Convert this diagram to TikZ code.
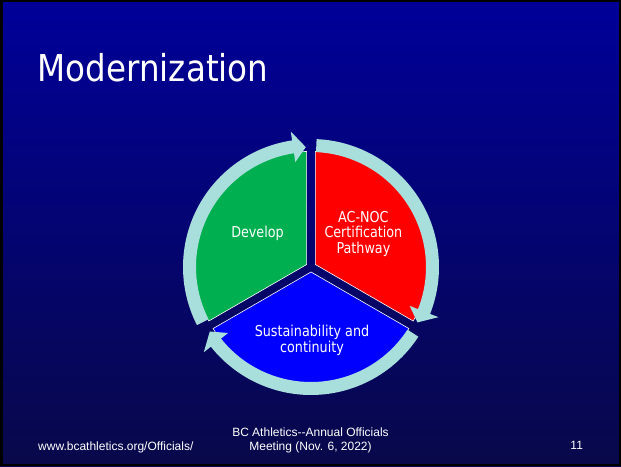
\documentclass[tikz,border=0pt]{standalone}
\usepackage{fontspec}
\usepackage{xcolor}
\usepackage{tikz}
\usetikzlibrary{calc}
\newfontfamily\slidefont[FakeStretch=0.85]{DejaVu Sans}
\newfontfamily\titlefont[FakeStretch=0.88]{DejaVu Sans}
\newfontfamily\footfont{Liberation Sans}
\definecolor{slidetop}{HTML}{000099}
\definecolor{slidebottom}{HTML}{08084A}
\definecolor{devgreen}{HTML}{00B050}
\definecolor{ringcyan}{RGB}{168,222,220}

\begin{document}
\begin{tikzpicture}[x=1pt, y=1pt,
        sector/.style={draw=white, line width=0.6pt},
        seglabel/.style={text=white, font=\slidefont\fontsize{15}{15.5}\selectfont, align=center, inner sep=0pt},
        footer/.style={text=white, font=\footfont\fontsize{12}{13.5}\selectfont, inner sep=0pt}]
        \useasboundingbox (0,0) rectangle (621,466);
        \shade[top color=slidetop, bottom color=slidebottom] (0,0) rectangle (621,466);
        \draw[line width=2.5pt] (1.25,1.25) rectangle (619.75,464.75);
        \coordinate (C) at (311,199);
        \filldraw[fill=devgreen, sector] ($(C)+(150:5pt)$) -- +(90:113pt) arc[start angle=90, end angle=210, radius=113pt] -- cycle;
        \filldraw[fill=red, sector] ($(C)+(30:5pt)$) -- +(-30:113pt) arc[start angle=-30, end angle=90, radius=113pt] -- cycle;
        \filldraw[fill=blue, sector] ($(C)+(270:5pt)$) -- +(210:113pt) arc[start angle=210, end angle=330, radius=113pt] -- cycle;
        \begin{scope}[shift={(C)}]
                \fill[ringcyan] (207:128pt) arc[start angle=207, end angle=98.5, radius=128pt] -- (98.5:137pt) -- (92.5:120pt) -- (98.5:106pt) -- (98.5:115pt) arc[start angle=98.5, end angle=207, radius=115pt] -- cycle;
                \fill[ringcyan] (87.5:128pt) arc[start angle=87.5, end angle=-21.5, radius=128pt] -- (-21.5:137pt) -- (-27.5:120pt) -- (-21.5:106pt) -- (-21.5:115pt) arc[start angle=-21.5, end angle=87.5, radius=115pt] -- cycle;
                \fill[ringcyan] (-33:128pt) arc[start angle=-33, end angle=-141.5, radius=128pt] -- (-141.5:137pt) -- (-147.5:120pt) -- (-141.5:106pt) -- (-141.5:115pt) arc[start angle=-141.5, end angle=-33, radius=115pt] -- cycle;
        \end{scope}
        \node[anchor=base west, text=white, font=\titlefont\fontsize{37}{44}\selectfont, inner sep=0pt] (title) at (37.5,384.3) {Modernization};
        \node[seglabel, anchor=base] (develop) at (257.5,228.7) {Develop};
        \node[seglabel] (acnoc) at (363.4,232.5) {AC-NOC\\Certification\\Pathway};
        \node[seglabel] (sustain) at (312,125.5) {Sustainability and\\continuity};
        \node[footer, anchor=base west] (url) at (38,16) {www.bcathletics.org/Officials/};
        \node[footer, anchor=base] (meeting) at (310.5,16) {Meeting (Nov. 6, 2022)};
        \node[footer, anchor=base] (bca) at (310.5,29.3) {BC Athletics-{}-Annual Officials};
        \node[footer, anchor=base] (page) at (576.7,16.5) {11};
\end{tikzpicture}
\end{document}
